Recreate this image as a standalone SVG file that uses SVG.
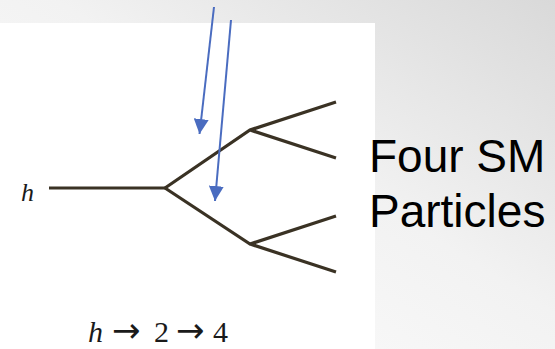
<svg xmlns="http://www.w3.org/2000/svg" width="555" height="349" viewBox="0 0 555 349">
  <defs>
    <linearGradient id="bg" x1="0" y1="1" x2="1" y2="0">
      <stop offset="0" stop-color="#ffffff"/>
      <stop offset="0.55" stop-color="#f2f2f2"/>
      <stop offset="1" stop-color="#d9d9d9"/>
    </linearGradient>
    <marker id="ah" viewBox="0 0 10 10" refX="10" refY="5" markerWidth="7.5" markerHeight="7.5" markerUnits="strokeWidth" orient="auto">
      <path d="M0,0 L10,5 L0,10 Z" fill="#4a6cc0"/>
    </marker>
    <style>
      .prop { stroke: #3a3224; stroke-width: 3.2; fill: none; stroke-linecap: butt; stroke-linejoin: miter; }
      .arrow { stroke: #4a6cc0; stroke-width: 2; fill: none; marker-end: url(#ah); }
      .math { font-family: "Liberation Serif", "DejaVu Serif", serif; fill: #1a1a1a; }
      .rel { font-family: "DejaVu Sans", sans-serif; font-size: 34px; }
      .label { font-family: "Liberation Sans", Arial, sans-serif; font-size: 46px; fill: #000; }
    </style>
  </defs>
  <rect x="0" y="0" width="555" height="349" fill="url(#bg)"/>
  <rect x="0" y="23" width="375" height="326" fill="#ffffff"/>

  <g id="diagram">
    <g id="h-line"><path class="prop" d="M49,188 L165,188"/></g>
    <g id="upper-branch"><path class="prop" d="M165,188 L250,130 L336,102 M250,130 L336,158"/></g>
    <g id="lower-branch"><path class="prop" d="M165,188 L250,244 L336,216 M250,244 L336,272"/></g>
    <g id="h-label"><text class="math" x="21" y="201" font-size="26" font-style="italic">h</text></g>
    <g id="decay-label">
      <text class="math" y="342" font-size="30"><tspan x="88" font-style="italic">h</tspan><tspan class="rel" x="112">→</tspan><tspan x="154">2</tspan><tspan class="rel" x="176">→</tspan><tspan x="213">4</tspan></text>
    </g>
  </g>

  <g id="connectors">
    <path class="arrow" d="M214,7 L199.5,134"/>
    <path class="arrow" d="M231,20 L215,201"/>
  </g>

  <g id="four-sm">
    <text class="label" x="369" y="172">Four SM</text>
    <text class="label" x="369" y="227">Particles</text>
  </g>
</svg>
